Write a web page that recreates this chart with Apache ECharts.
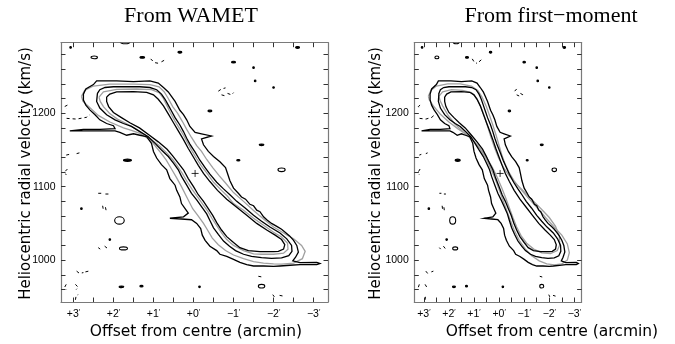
<!DOCTYPE html>
<html><head><meta charset="utf-8">
<script src="https://cdn.jsdelivr.net/npm/echarts@6/dist/echarts.min.js"></script>
<style>html,body{margin:0;padding:0;background:#fff}#c{width:675px;height:344px}</style>
</head><body><div id="c"></div><script>
// ---- axis / tick values ----
const panelTitles = ['From WAMET', 'From first\u2212moment'];
const xTitle = 'Offset from centre (arcmin)';
const yTitle = 'Heliocentric radial velocity (km/s)';
const xTickValues = [-3,-2.5,-2,-1.5,-1,-0.5,0,0.5,1,1.5,2,2.5,3];
const xLabelValues = [3,2,1,0,-1,-2,-3];
const xLabelTexts = ['+3','+2','+1','+0','\u22121','\u22122','\u22123'];
const yTickValues = [960,980,1000,1020,1040,1060,1080,1100,1120,1140,1160,1180,1200,1220,1240,1260,1280];
const yLabelValues = [1000,1100,1200];
const yLabelTexts = ['1000','1100','1200'];
const xRangeLeft = [-3.36, 3.31];
const xRangeRight = [-3.29, 3.38];
const yRange = [943, 1296];

// ---- observed contours (offset arcmin, velocity km/s) ----
const obsLevel1 = [[2.75,1226],[2.69,1233],[2.50,1239],[2.42,1244],[2.17,1244],[1.92,1244],[1.50,1243],[1.09,1244],[0.88,1241],[0.75,1235],[0.63,1229],[0.55,1223],[0.46,1216],[0.34,1204],[0.25,1198],[0.17,1191],[0.09,1182],[-0.04,1174],[-0.20,1172],[-0.45,1169],[-0.20,1165],[-0.25,1157],[-0.37,1148],[-0.50,1141],[-0.66,1134],[-0.80,1126],[-0.85,1118],[-0.91,1108],[-1.00,1098],[-1.12,1091],[-1.20,1086],[-1.30,1083],[-1.41,1076],[-1.50,1074],[-1.58,1068],[-1.66,1066],[-1.75,1059],[-1.83,1055],[-1.95,1050],[-2.08,1046],[-2.20,1042],[-2.29,1038],[-2.40,1033],[-2.50,1027],[-2.58,1020],[-2.62,1011],[-2.55,1004],[-2.48,999],[-2.66,996.5],[-3.08,997],[-3.16,995.5],[-3.08,994],[-2.66,994],[-2.41,993],[-2.16,992],[-2.00,991.5],[-1.75,992],[-1.50,992],[-1.33,994],[-1.16,997],[-1.00,1001],[-0.83,1005],[-0.66,1008],[-0.58,1013],[-0.41,1019],[-0.29,1027],[-0.22,1034],[-0.18,1043],[-0.08,1050],[0.05,1055],[0.30,1056],[0.59,1057],[0.25,1059],[0.13,1064],[0.21,1070],[0.30,1077],[0.34,1086],[0.42,1095],[0.46,1102],[0.59,1111],[0.67,1123],[0.80,1130],[0.92,1139],[1.00,1148],[1.05,1159],[1.17,1168],[1.34,1170],[1.50,1172],[1.67,1170],[1.84,1174],[1.96,1176],[2.34,1176],[2.75,1176],[3.09,1176],[2.75,1178],[2.34,1178],[1.96,1179],[2.00,1183],[2.17,1186],[2.34,1191],[2.46,1198],[2.59,1204.5],[2.69,1211],[2.75,1218]];
const obsLevel2 = [[2.40,1227],[2.34,1232],[2.21,1235],[2.00,1236],[1.67,1236],[1.34,1236],[1.09,1235],[0.92,1232],[0.80,1226],[0.71,1219],[0.63,1211],[0.55,1203],[0.46,1194],[0.34,1184],[0.25,1175],[0.17,1166],[0.09,1158],[-0.04,1147],[-0.16,1136],[-0.29,1126],[-0.41,1117],[-0.58,1106],[-0.75,1097],[-0.91,1089],[-1.08,1080],[-1.29,1071],[-1.50,1061],[-1.70,1053],[-1.91,1045],[-2.16,1037],[-2.33,1029],[-2.45,1020],[-2.46,1012],[-2.38,1006],[-2.20,1003],[-1.95,1002.5],[-1.70,1003.5],[-1.45,1005],[-1.25,1008],[-1.05,1013],[-0.90,1019],[-0.75,1026],[-0.62,1035],[-0.50,1044],[-0.41,1054],[-0.33,1063],[-0.20,1073],[-0.08,1082],[0.05,1091],[0.17,1102],[0.30,1114],[0.38,1123],[0.50,1132],[0.63,1141],[0.80,1150],[0.96,1159],[1.13,1168],[1.34,1175],[1.55,1182],[1.75,1186],[1.96,1191],[2.17,1198],[2.34,1207],[2.42,1216]];
const obsLevel3 = [[2.17,1222],[2.09,1226],[1.92,1229],[1.50,1229.5],[1.17,1228.5],[1.00,1225],[0.88,1219],[0.75,1210],[0.63,1199],[0.50,1187],[0.38,1176],[0.25,1164],[0.13,1152],[0.00,1140],[-0.12,1129],[-0.25,1118],[-0.41,1107],[-0.60,1095],[-0.83,1083],[-1.08,1072],[-1.33,1061],[-1.58,1050],[-1.83,1041],[-2.04,1034],[-2.20,1028],[-2.28,1021],[-2.25,1015],[-2.12,1012],[-2.00,1011.5],[-1.66,1011.5],[-1.37,1013],[-1.16,1017],[-1.00,1024],[-0.83,1032],[-0.70,1041],[-0.58,1051],[-0.48,1061],[-0.37,1070],[-0.25,1080],[-0.12,1089],[0.00,1100],[0.13,1111],[0.25,1123],[0.38,1132],[0.52,1142],[0.66,1151],[0.88,1161],[1.10,1170],[1.35,1180],[1.59,1187],[1.80,1194],[2.00,1201],[2.12,1209],[2.17,1216]];

// ---- model contours ----
const wametOuter = [[2.80,1223],[2.72,1231],[2.50,1237],[2.09,1239.5],[1.50,1239.5],[1.09,1239],[0.86,1236],[0.73,1229],[0.63,1220],[0.52,1209],[0.40,1200],[0.28,1189],[0.17,1178],[0.05,1167],[-0.08,1156],[-0.20,1148],[-0.33,1137],[-0.48,1126],[-0.64,1115],[-0.80,1105],[-1.00,1092],[-1.25,1080],[-1.50,1067.5],[-1.75,1056],[-2.00,1045],[-2.25,1037],[-2.50,1029],[-2.70,1020],[-2.79,1012],[-2.72,1002],[-2.50,996],[-2.20,994.5],[-2.00,995],[-1.75,996],[-1.50,998],[-1.25,1002],[-1.00,1007],[-0.80,1013],[-0.62,1021],[-0.47,1030],[-0.35,1041],[-0.25,1050],[-0.12,1060],[0.02,1070],[0.16,1085],[0.30,1100],[0.42,1112],[0.55,1124],[0.68,1136],[0.80,1145],[0.92,1153],[1.02,1160],[1.15,1166],[1.34,1172.5],[1.55,1176.5],[1.75,1180],[2.09,1188],[2.38,1197],[2.60,1208],[2.76,1216]];
const wametInner = [[2.36,1222],[2.25,1229],[1.92,1232.5],[1.42,1233],[1.05,1232],[0.86,1228],[0.76,1221],[0.67,1211],[0.58,1201],[0.47,1190],[0.36,1180],[0.25,1170],[0.13,1158],[0.03,1148],[-0.08,1138],[-0.20,1128],[-0.34,1118],[-0.50,1106],[-0.70,1095],[-0.85,1087],[-1.00,1077],[-1.25,1068],[-1.50,1057],[-1.75,1047.5],[-2.00,1038],[-2.20,1031.5],[-2.35,1023],[-2.36,1015],[-2.25,1009.5],[-2.00,1008],[-1.70,1008],[-1.50,1008.5],[-1.25,1013],[-1.00,1020],[-0.83,1028],[-0.70,1037],[-0.58,1047],[-0.46,1057],[-0.35,1067],[-0.22,1077],[-0.10,1086],[0.03,1096],[0.15,1106],[0.28,1118],[0.40,1128],[0.52,1137],[0.67,1146],[0.86,1156],[1.12,1167],[1.42,1178],[1.68,1186],[1.90,1192],[2.10,1200],[2.25,1209],[2.33,1216]];
const momentOuter = [[2.82,1223],[2.72,1231],[2.50,1237],[2.05,1240],[1.55,1240],[1.10,1237],[0.85,1231],[0.68,1222],[0.52,1210],[0.38,1197],[0.25,1184],[0.12,1170],[0.00,1156],[-0.12,1142],[-0.25,1130],[-0.40,1119],[-0.60,1108],[-0.85,1097],[-1.15,1085],[-1.50,1072],[-1.85,1058],[-2.20,1045],[-2.50,1034],[-2.72,1022],[-2.80,1010],[-2.72,1000],[-2.50,995],[-2.20,993.5],[-1.90,995],[-1.60,999],[-1.30,1006],[-1.05,1015],[-0.80,1027],[-0.60,1041],[-0.45,1054],[-0.30,1068],[-0.15,1082],[0.00,1096],[0.15,1110],[0.32,1124],[0.52,1138],[0.75,1151],[1.00,1162],[1.30,1171],[1.65,1179],[2.00,1188],[2.35,1199],[2.62,1210],[2.78,1218]];
const momentInner = [[2.40,1223],[2.25,1229],[1.90,1232],[1.45,1231],[1.10,1228],[0.88,1220],[0.72,1208],[0.58,1195],[0.45,1181],[0.32,1167],[0.18,1153],[0.02,1139],[-0.18,1126],[-0.42,1114],[-0.70,1103],[-1.00,1093],[-1.35,1081],[-1.70,1069],[-2.00,1058],[-2.25,1046],[-2.40,1033],[-2.42,1021],[-2.32,1013],[-2.05,1009],[-1.70,1010],[-1.38,1015],[-1.10,1023],[-0.88,1033],[-0.70,1045],[-0.55,1058],[-0.40,1072],[-0.25,1086],[-0.10,1099],[0.08,1113],[0.28,1127],[0.52,1141],[0.80,1154],[1.10,1165],[1.45,1175],[1.78,1186],[2.05,1198],[2.25,1210],[2.35,1217]];

// ---- noise: small positive islands [offset, velocity, half-width arcmin, half-height km/s, filled] ----
const islands = [[2.48,1276,0.08,1.8,0],[1.28,1276,0.06,1.2,1],[0.34,1283,0.05,1.2,1],[-1.00,1269.5,0.05,1.2,1],[-2.60,1289.5,0.05,1.2,1],[-0.41,1203,0.05,1.2,1],[1.65,1136,0.10,1.5,1],[-1.70,1157,0.06,1.0,1],[-1.12,1136,0.04,1.0,1],[-2.20,1123,0.09,2.5,0],[1.85,1054,0.12,5,0],[1.75,1016,0.10,2,0],[-1.70,964.5,0.08,2.5,0],[1.80,963.6,0.06,1,1],[1.30,964.5,0.04,1,1],[-0.15,963.6,0.02,1,1],[3.07,1289.5,0.02,1,1],[-1.50,1262,0.02,1,1],[-1.54,1244,0.02,1,1],[-2.00,1235,0.02,1,1],[2.80,1070,0.02,1,1],[2.09,1028,0.02,1,1],[1.71,1297,0.12,2.5,0]];
// ---- noise: negative contour fragments (dashed) ----
const negFragments = [
 [[1.07,1274],[0.98,1269],[0.88,1268]], [[0.80,1270],[0.70,1273]],
 [[-0.62,1230],[-0.70,1233],[-0.80,1234.5]], [[-0.85,1227],[-0.95,1225],[-1.00,1228]], [[-0.70,1225],[-0.80,1223.5]],
 [[3.17,1193],[2.92,1192],[2.67,1194.5],[2.59,1198]], [[3.15,1211],[3.22,1209],[3.17,1206]],
 [[3.18,1143],[3.10,1144]], [[2.92,1145],[2.85,1146]], [[3.15,1124],[3.22,1120],[3.18,1116]],
 [[2.38,1091],[2.30,1091]], [[2.20,1090],[2.12,1090]], [[2.27,1074],[2.25,1068]], [[2.20,1072],[2.18,1067]],
 [[2.38,1017],[2.33,1015]], [[2.22,1019],[2.15,1016],[2.10,1018]],
 [[2.92,985],[2.85,982],[2.75,983]], [[2.70,984],[2.62,985]],
 [[3.18,967],[3.22,963],[3.17,960]], [[2.95,967],[2.88,963],[2.93,960]],
 [[-1.62,978],[-1.72,977]], [[-1.98,953],[-2.02,950]], [[-2.15,952],[-2.25,951]],
 [[2.95,946],[2.93,952],[2.88,953]]
];
const centreMark = [[-0.04,1118]];

const chart = echarts.init(document.getElementById('c'), null, {renderer:'canvas'});
const FRAME = '#7a7a7a', TICK = '#333';
const grids = [
  {left:61, top:42.7, width:267, height:259.3},
  {left:414.3, top:42.7, width:267, height:259.3}
];
function closed(a){ return a.concat([a[0]]); }
function xLab(v){ const i = xLabelValues.indexOf(Math.round(v*100)/100); return i<0 ? '' : '{n|'+xLabelTexts[i]+'}{p|\u2032}'; }
function yLab(v){ const i = yLabelValues.indexOf(Math.round(v)); return i<0 ? '' : yLabelTexts[i]; }
function xAx(g, pos, range, show){
  return {type:'value', gridIndex:g, position:pos, inverse:true, min:range[0], max:range[1],
    axisLine:{show:true, onZero:false, lineStyle:{color:FRAME, width:1.2}},
    axisTick:{show:true, inside:true, length:4.5, customValues:xTickValues, lineStyle:{color:TICK, width:1}},
    splitLine:{show:false},
    axisLabel:{show:show, customValues:xLabelValues, margin:7, formatter:xLab,
      rich:{n:{fontFamily:'Liberation Sans', fontSize:10.5, color:'#000'}, p:{fontFamily:'Liberation Sans', fontSize:7, color:'#000', verticalAlign:'top', padding:[0,0,4,0]}}}};
}
function yAx(g, pos, show){
  return {type:'value', gridIndex:g, position:pos, min:yRange[0], max:yRange[1],
    axisLine:{show:true, onZero:false, lineStyle:{color:FRAME, width:1.2}},
    axisTick:{show:true, inside:true, length:4.5, customValues:yTickValues, lineStyle:{color:TICK, width:1}},
    splitLine:{show:false},
    axisLabel:{show:show, customValues:yLabelValues, formatter:yLab, margin:5.5, fontFamily:'Liberation Sans', fontSize:10.5, color:'#000'}};
}
function linesSeries(xi, yi, polys, color, width, type){
  return {type:'lines', coordinateSystem:'cartesian2d', xAxisIndex:xi, yAxisIndex:yi, polyline:true, clip:true, silent:true,
    lineStyle:{color:color, width:width, type:type||'solid', opacity:1},
    data: polys.map(p=>({coords:p}))};
}
function islandSeries(xi, yi){
  return {type:'custom', xAxisIndex:xi, yAxisIndex:yi, clip:true, silent:true, data:islands,
    renderItem:function(params, api){
      const c = api.coord([api.value(0), api.value(1)]);
      const s = api.size([api.value(2), api.value(3)]);
      const rx = Math.max(s[0],0.8), ry = Math.max(s[1],0.8);
      const d = 'M'+(c[0]-rx)+' '+c[1]+' A'+rx+' '+ry+' 0 1 0 '+(c[0]+rx)+' '+c[1]+' A'+rx+' '+ry+' 0 1 0 '+(c[0]-rx)+' '+c[1]+' Z';
      return {type:'path', shape:{pathData:d}, style:{fill: api.value(4)? '#000':'none', stroke:'#000', lineWidth:1.1}};
    }};
}
const obs = [closed(obsLevel1), closed(obsLevel2), closed(obsLevel3)];
const series = [];
[[0,0,[closed(wametOuter),closed(wametInner)]],[2,2,[closed(momentOuter),closed(momentInner)]]].forEach(function(p){
  series.push(linesSeries(p[0],p[1],p[2],'#a0a0a0',1.3));
  series.push(linesSeries(p[0],p[1],obs,'#000',1.3));
  series.push(linesSeries(p[0],p[1],negFragments,'#000',1,[3,3]));
  series.push(islandSeries(p[0],p[1]));
  series.push({type:'scatter', xAxisIndex:p[0], yAxisIndex:p[1], data:centreMark, symbol:'path://M0,5L10,5M5,0L5,10', symbolSize:7, silent:true,
    itemStyle:{color:'none', borderColor:'#000', borderWidth:1}});
});
const graphic = [];
const titleX = [191, 551], xTitleX = [196, 552], yTitleX = [26, 376];
for (let i=0;i<2;i++){
  graphic.push({type:'text', x:titleX[i], y:16, style:{text:panelTitles[i], font:'22px "Liberation Serif"', fill:'#000', textAlign:'center', textVerticalAlign:'middle'}});
  graphic.push({type:'text', x:xTitleX[i], y:332, style:{text:xTitle, font:'15.5px "DejaVu Sans"', fill:'#000', textAlign:'center', textVerticalAlign:'middle'}});
  graphic.push({type:'text', x:yTitleX[i], y:173.5, rotation:Math.PI/2, style:{text:yTitle, font:'15px "DejaVu Sans"', fill:'#000', textAlign:'center', textVerticalAlign:'middle'}});
}
chart.setOption({
  animation:false,
  grid: grids,
  xAxis:[xAx(0,'bottom',xRangeLeft,true), xAx(0,'top',xRangeLeft,false), xAx(1,'bottom',xRangeRight,true), xAx(1,'top',xRangeRight,false)],
  yAxis:[yAx(0,'left',true), yAx(0,'right',false), yAx(1,'left',true), yAx(1,'right',false)],
  series: series,
  graphic: graphic
});
</script></body></html>
